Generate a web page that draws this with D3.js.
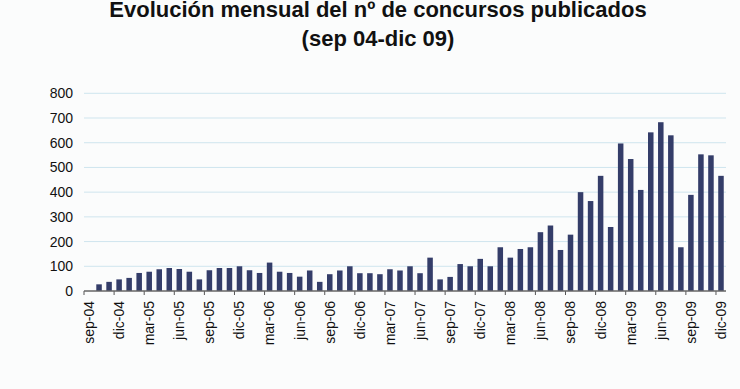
<!DOCTYPE html>
<html lang="es">
<head>
<meta charset="UTF-8">
<title>Evolución mensual del nº de concursos publicados</title>
<script src="https://d3js.org/d3.v7.min.js"></script>
<style>
    body { margin: 0; background: #fbfcfc; }
    svg { display: block; font-family: "Liberation Sans", Arial, sans-serif; }
</style>
</head>
<body>
<div id="chart"></div>
<script>
    // months sep-04 .. dic-09
    const monthNames = ["ene", "feb", "mar", "abr", "may", "jun", "jul", "ago", "sep", "oct", "nov", "dic"];
    const months = [];
    for (let yr = 2004; yr <= 2009; yr++) {
        for (let m = 0; m < 12; m++) {
            if (yr === 2004 && m < 8) continue;
            months.push(monthNames[m] + "-" + String(yr).slice(2));
        }
    }

    // nº de concursos publicados
    const values = [
        0, 27, 37, 47,                                  // 2004 sep-dic
        53, 73, 78, 88, 93, 89, 78, 47, 84, 93, 93, 100,   // 2005
        84, 73, 115, 78, 73, 58, 83, 37, 68, 83, 100, 72,  // 2006
        72, 68, 88, 83, 100, 72, 135, 47, 57, 109, 100, 130, // 2007
        100, 177, 135, 170, 177, 238, 265, 166, 228, 400, 364, 466, // 2008
        259, 597, 534, 409, 642, 683, 630, 177, 389, 553, 549, 466  // 2009
    ];

    const yTicks = [0, 100, 200, 300, 400, 500, 600, 700, 800];
    const titleLines = ["Evolución mensual del nº de concursos publicados", "(sep 04-dic 09)"];

    const data = months.map((m, i) => ({ month: m, value: values[i] }));

    const width = 740, height = 389;
    const plotLeft = 84, plotRight = 726, plotTop = 93.3, plotBottom = 291;

    const svg = d3.select("#chart").append("svg")
        .attr("width", width)
        .attr("height", height);

    svg.append("rect").attr("width", width).attr("height", height).attr("fill", "#fbfcfc");

    // title
    svg.append("g")
        .selectAll("text")
        .data(titleLines)
        .join("text")
        .attr("x", 378)
        .attr("y", (d, i) => i === 0 ? 17 : 46)
        .attr("text-anchor", "middle")
        .attr("font-size", 22)
        .attr("font-weight", "bold")
        .attr("fill", "#111")
        .text(d => d);

    const x = d3.scaleBand()
        .domain(months)
        .range([plotLeft, plotRight])
        .paddingInner(0.45)
        .paddingOuter(0.225);

    const y = d3.scaleLinear()
        .domain([0, 800])
        .range([plotBottom, plotTop]);

    // gridlines
    svg.append("g")
        .selectAll("line")
        .data(yTicks.filter(d => d > 0))
        .join("line")
        .attr("x1", plotLeft).attr("x2", plotRight)
        .attr("y1", d => y(d)).attr("y2", d => y(d))
        .attr("stroke", "#cfe5ee")
        .attr("stroke-width", 1);

    // y axis labels
    const yAxis = svg.append("g")
        .attr("transform", `translate(${plotLeft},0)`)
        .call(d3.axisLeft(y).tickValues(yTicks).tickSize(0).tickPadding(11));
    yAxis.select(".domain").remove();
    yAxis.selectAll("text").attr("font-size", 14).attr("fill", "#111");

    // bars
    svg.append("g")
        .selectAll("rect")
        .data(data)
        .join("rect")
        .attr("x", d => x(d.month))
        .attr("y", d => y(d.value))
        .attr("width", x.bandwidth())
        .attr("height", d => y(0) - y(d.value))
        .attr("fill", "#343d69");

    // x axis
    const labelMonths = months.filter((m, i) => i % 3 === 0);
    const xAxis = svg.append("g")
        .attr("transform", `translate(0,${plotBottom})`)
        .call(d3.axisBottom(x).tickValues(labelMonths).tickSize(0).tickPadding(0));
    xAxis.select(".domain").remove();
    xAxis.selectAll("text")
        .attr("font-size", 14)
        .attr("fill", "#111")
        .attr("transform", "rotate(-90)")
        .attr("text-anchor", "end")
        .attr("x", -10)
        .attr("y", 0)
        .attr("dy", "0.35em");

    const step = x.step();
    const tickPos = labelMonths.map(m => x(m) - step * x.paddingInner() / 2);
    svg.append("g")
        .selectAll("line")
        .data(tickPos)
        .join("line")
        .attr("x1", d => d).attr("x2", d => d)
        .attr("y1", plotBottom).attr("y2", plotBottom + 4)
        .attr("stroke", "#555").attr("stroke-width", 1);

    svg.append("line")
        .attr("x1", plotLeft).attr("x2", plotRight)
        .attr("y1", plotBottom).attr("y2", plotBottom)
        .attr("stroke", "#666").attr("stroke-width", 1.5);
</script>
</body>
</html>
